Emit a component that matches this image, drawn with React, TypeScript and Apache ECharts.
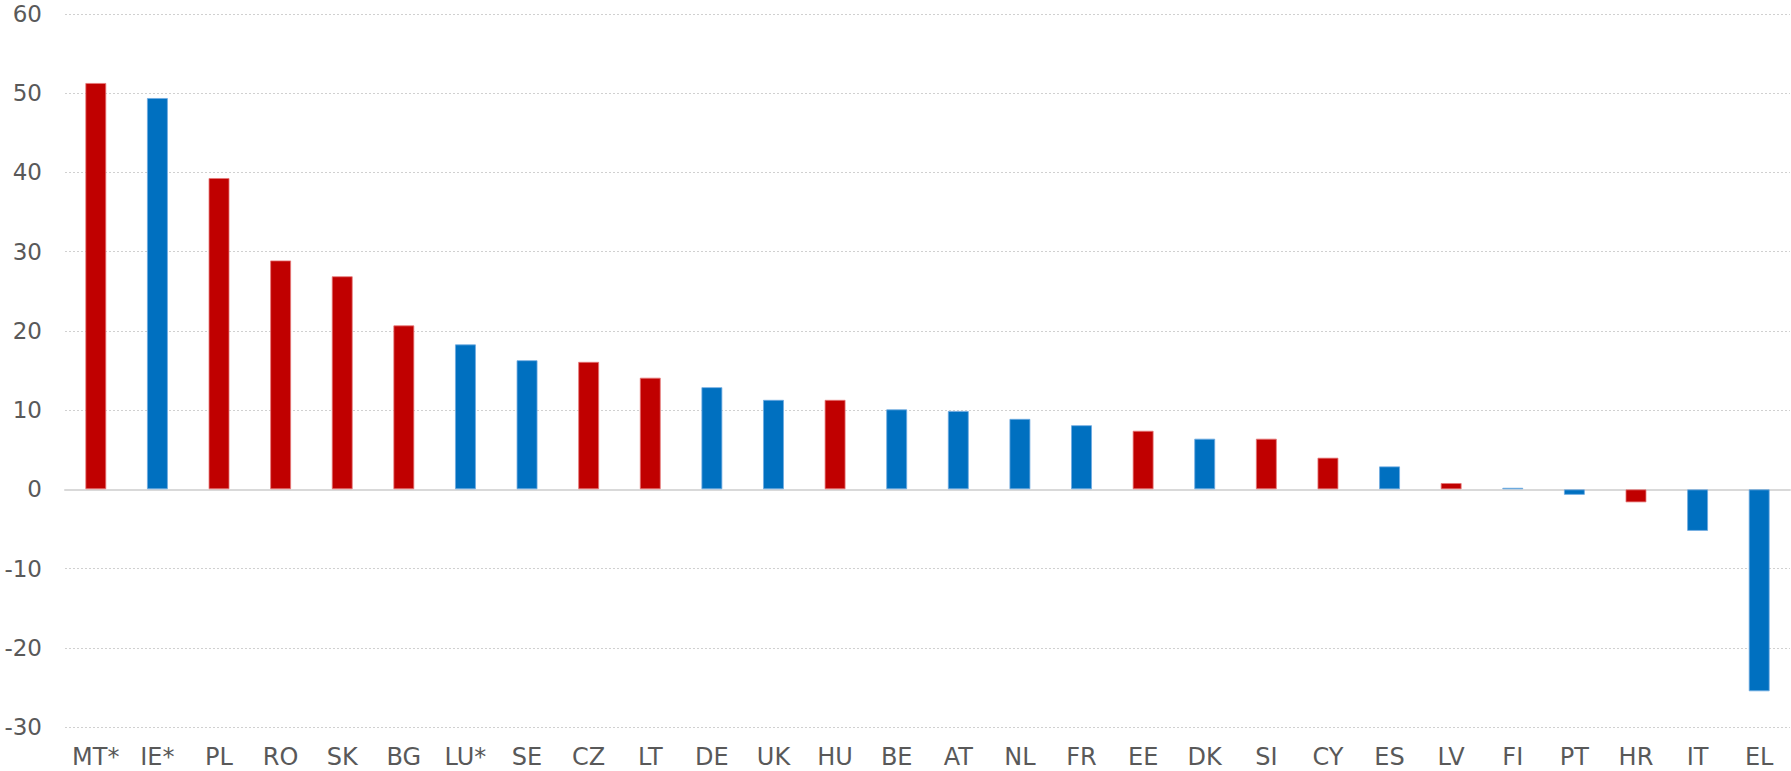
import React, { useEffect, useRef } from "react";
import * as echarts from "echarts";

const categories = ["MT*", "IE*", "PL", "RO", "SK", "BG", "LU*", "SE", "CZ", "LT", "DE", "UK", "HU", "BE", "AT", "NL", "FR", "EE", "DK", "SI", "CY", "ES", "LV", "FI", "PT", "HR", "IT", "EL"];
const values = [51.3, 49.4, 39.3, 28.9, 26.9, 20.7, 18.3, 16.3, 16.1, 14.1, 12.9, 11.3, 11.3, 10.1, 9.9, 8.9, 8.1, 7.4, 6.4, 6.4, 4.0, 2.9, 0.8, 0.2, -0.7, -1.65, -5.25, -25.5];
const groups = ["r", "b", "r", "r", "r", "r", "b", "b", "r", "r", "b", "b", "r", "b", "b", "b", "b", "r", "b", "r", "r", "b", "r", "b", "b", "r", "b", "b"];
const yTicks = { min: -30, max: 60, interval: 10 };

const RED = "#C00000";
const BLUE = "#0070C0";

export default function App() {
  const ref = useRef<HTMLDivElement>(null);
  useEffect(() => {
    if (!ref.current) return;
    const chart = echarts.init(ref.current, null, { renderer: "svg" });
    chart.setOption({
      animation: false,
      backgroundColor: "#ffffff",
      grid: { left: 65, right: 1, top: 14, bottom: 44, containLabel: false },
      xAxis: {
        type: "category",
        data: categories,
        axisLine: { show: true, onZero: true, lineStyle: { color: "#D9D9D9", width: 2 } },
        axisTick: { show: false },
        axisLabel: {
          show: true,
          interval: 0,
          color: "#595959",
          fontFamily: "DejaVu Sans",
          fontSize: 24,
          lineHeight: 22,
          margin: 19,
        },
        position: "bottom",
      },
      yAxis: {
        type: "value",
        min: yTicks.min,
        max: yTicks.max,
        interval: yTicks.interval,
        axisLine: { show: false },
        axisTick: { show: false },
        axisLabel: { color: "#595959", fontFamily: "DejaVu Sans", fontSize: 23, lineHeight: 22, margin: 23 },
        splitLine: { show: true, lineStyle: { color: "#D0D0D0", type: [2, 2], width: 1 } },
      },
      series: [
        {
          type: "bar",
          barWidth: 21,
          data: values.map((v, i) => ({
            value: v,
            itemStyle: {
              color: groups[i] === "r" ? RED : BLUE,
              borderColor: groups[i] === "r" ? "rgba(230,120,120,0.8)" : "rgba(110,170,225,0.8)",
              borderWidth: 1,
            },
          })),
        },
      ],
    });
    return () => chart.dispose();
  }, []);
  return <div ref={ref} style={{ position: "fixed", left: 0, top: 0, width: 1791, height: 771 }} />;
}
